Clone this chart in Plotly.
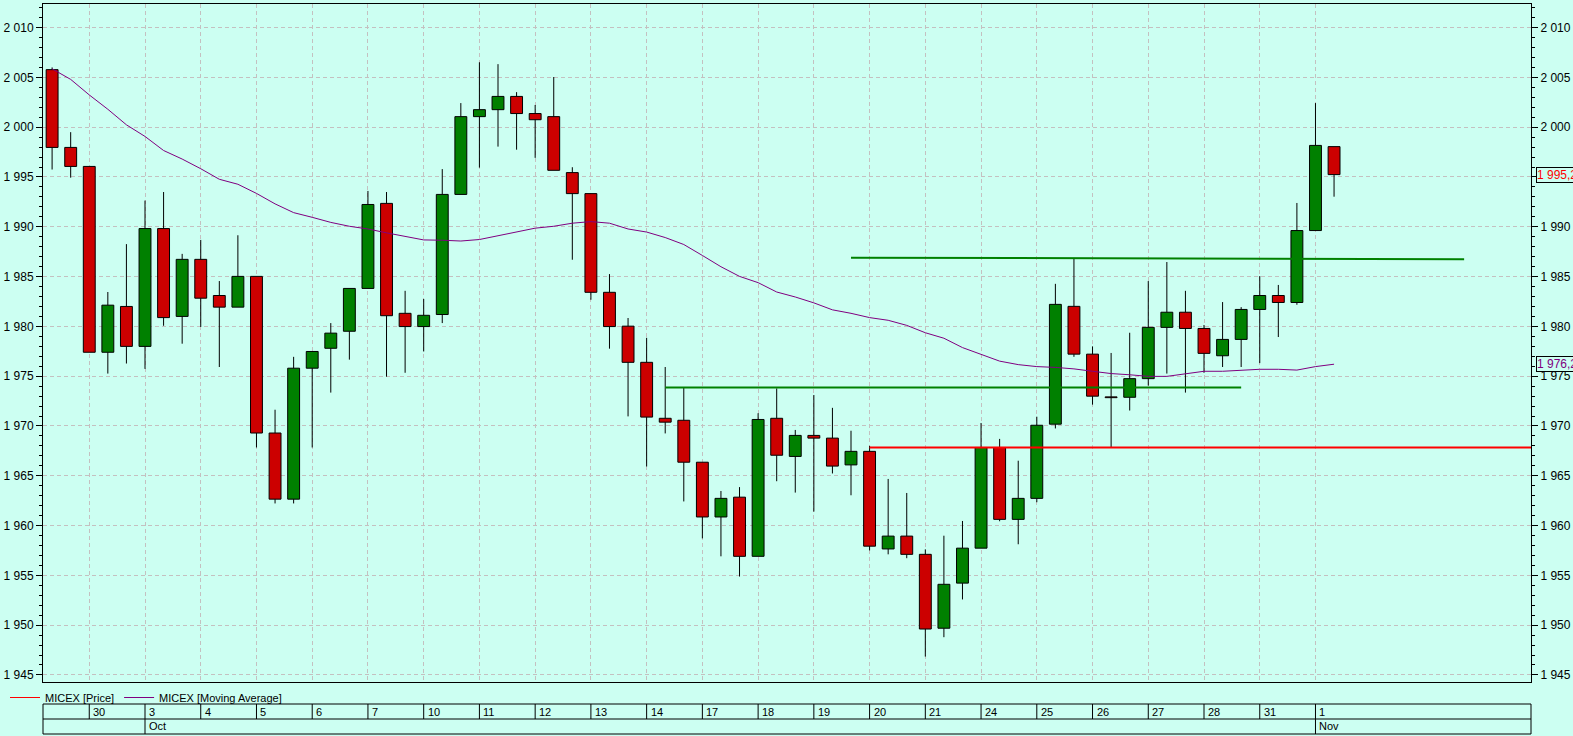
import plotly.graph_objects as go

# ---------------- data ----------------
opens = [2005.78, 1997.97, 1996.06, 1977.40, 1982.00, 1977.99, 1989.82, 1981.00, 1986.73, 1983.10,
         1981.93, 1985.02, 1969.29, 1962.65, 1975.80, 1977.80, 1979.51, 1983.81, 1992.35, 1981.31,
         1979.98, 1981.19, 1993.25, 2001.06, 2001.76, 2003.09, 2001.37, 2001.06, 1995.44, 1993.33,
         1983.42, 1980.02, 1976.39, 1970.77, 1970.57, 1966.36, 1960.86, 1962.85, 1956.91, 1970.77,
         1966.94, 1969.05, 1968.78, 1966.09, 1967.45, 1957.65, 1958.94, 1957.11, 1949.69, 1954.22,
         1957.73, 1967.84, 1960.62, 1962.73, 1970.18, 1982.01, 1977.21, 1972.88, 1972.88, 1974.75,
         1979.90, 1981.42, 1979.79, 1977.05, 1978.69, 1981.70, 1983.10, 1982.40, 1989.62, 1998.05]
highs = [2006.00, 1999.50, 1996.06, 1983.45, 1988.26, 1992.63, 1993.49, 1987.28, 1988.68, 1984.55,
         1989.15, 1985.02, 1971.63, 1976.94, 1977.48, 1980.33, 1983.81, 1993.60, 1993.49, 1983.57,
         1982.75, 1995.79, 2002.42, 2006.52, 2006.33, 2003.52, 2002.23, 2005.04, 1995.98, 1993.33,
         1985.25, 1980.84, 1978.85, 1975.92, 1973.81, 1966.36, 1963.47, 1963.86, 1971.28, 1973.77,
         1969.60, 1973.11, 1971.82, 1969.52, 1968.00, 1964.68, 1963.27, 1957.61, 1958.98, 1960.46,
         1970.30, 1968.70, 1966.51, 1970.93, 1984.27, 1986.77, 1977.99, 1977.33, 1979.36, 1984.55,
         1986.46, 1983.57, 1980.14, 1982.44, 1981.93, 1985.05, 1984.16, 1992.39, 2002.42, 1998.05]
lows = [1995.75, 1994.93, 1977.40, 1975.26, 1976.27, 1975.73, 1980.06, 1978.26, 1979.94, 1975.92,
        1981.93, 1967.84, 1962.22, 1962.22, 1967.84, 1973.35, 1976.66, 1983.81, 1974.95, 1975.34,
        1977.48, 1980.33, 1993.25, 1995.94, 1998.05, 1997.74, 1996.92, 1995.67, 1986.69, 1982.67,
        1977.76, 1970.96, 1965.93, 1969.25, 1962.42, 1958.71, 1956.91, 1954.88, 1956.91, 1964.45,
        1963.31, 1961.40, 1965.23, 1963.04, 1957.50, 1957.11, 1956.72, 1946.84, 1948.79, 1952.58,
        1957.73, 1960.43, 1958.12, 1962.34, 1969.75, 1976.94, 1972.14, 1967.84, 1971.55, 1974.05,
        1975.26, 1973.35, 1975.34, 1975.92, 1975.92, 1976.31, 1978.93, 1982.17, 1989.62, 1993.02]
closes = [1997.97, 1996.06, 1977.40, 1982.13, 1977.99, 1989.82, 1980.88, 1986.73, 1982.83, 1981.93,
          1985.02, 1969.29, 1962.65, 1975.80, 1977.48, 1979.32, 1983.81, 1992.24, 1981.07, 1979.98,
          1981.11, 1993.25, 2001.06, 2001.76, 2003.09, 2001.37, 2000.75, 1995.67, 1993.33, 1983.42,
          1979.98, 1976.39, 1970.89, 1970.38, 1966.36, 1960.86, 1962.73, 1956.91, 1970.65, 1967.06,
          1969.05, 1968.78, 1965.97, 1967.45, 1957.93, 1958.94, 1957.11, 1949.61, 1954.10, 1957.73,
          1967.84, 1960.62, 1962.73, 1970.07, 1982.21, 1977.21, 1972.99, 1972.88, 1974.75, 1979.90,
          1981.42, 1979.79, 1977.29, 1978.69, 1981.70, 1983.10, 1982.40, 1989.62, 1998.17, 1995.24]
moving_average = [2005.86, 2004.80, 2003.24, 2001.80, 2000.24, 1999.07, 1997.66, 1996.80, 1995.83, 1994.77,
                  1994.27, 1993.35, 1992.30, 1991.42, 1990.95, 1990.44, 1990.05, 1989.78, 1989.39, 1989.07,
                  1988.68, 1988.65, 1988.57, 1988.72, 1989.11, 1989.47, 1989.86, 1990.05, 1990.36, 1990.52,
                  1990.36, 1989.78, 1989.47, 1988.92, 1988.22, 1987.12, 1985.99, 1985.02, 1984.39, 1983.45,
                  1982.95, 1982.36, 1981.66, 1981.31, 1980.88, 1980.61, 1980.10, 1979.36, 1978.81, 1977.87,
                  1977.17, 1976.51, 1976.16, 1975.96, 1975.88, 1975.73, 1975.49, 1975.26, 1975.14, 1974.98,
                  1974.98, 1975.22, 1975.49, 1975.49, 1975.61, 1975.69, 1975.69, 1975.61, 1975.96, 1976.20]

day_labels = ["30", "3", "4", "5", "6", "7", "10", "11", "12", "13", "14", "17",
              "18", "19", "20", "21", "24", "25", "26", "27", "28", "31", "1"]
month_labels = ["Oct", "Nov"]
month_start_day = [1, 22]
first_day_candle = 2
candles_per_day = 3

# drawn level lines: (start candle, end candle, start price, end price, colour)
level_lines = [
    (43, 76, 1986.90, 1986.75, "#008000"),
    (33, 64, 1973.85, 1973.85, "#008000"),
    (44, 80, 1967.84, 1967.84, "#FF0000"),
]

# ---------------- styling ----------------
W, H = 1573, 736
ML, MR, MT, MB = 43, 42, 4, 54
PLOT_W = W - ML - MR
PLOT_H = H - MT - MB
BG = "#CCFFF2"
GRID = "#C4C0C0"
UP = "#008000"
DOWN = "#CC0000"
FONT = "Liberation Sans, Arial, sans-serif"
X_RANGE = [-0.49, 79.6]
Y_RANGE = [1944.29, 2012.37]


def paper_y(px):
    return (H - MB - px) / PLOT_H


def paper_x(px):
    return (px - ML) / PLOT_W


def fmt(v):
    s = f"{v:,.1f}"
    return s.replace(",", " ").replace(".", ",")


n = len(opens)
xs = list(range(n))

body_base, body_h, body_col = [], [], []
wx, wy = [], []
for i, (o, h, l, c) in enumerate(zip(opens, highs, lows, closes)):
    top, bot = max(o, c), min(o, c)
    hh = max(top - bot, 0.08)
    body_base.append(bot - (hh - (top - bot)) / 2)
    body_h.append(hh)
    body_col.append(UP if c > o else DOWN)
    if h > top:
        wx += [i, i, None]
        wy += [h, top, None]
    if l < bot:
        wx += [i, i, None]
        wy += [bot, l, None]

fig = go.Figure()

# legend entry for price
fig.add_trace(go.Scatter(x=[None], y=[None], mode="lines", name="MICEX [Price]",
                         line=dict(color="#FF0000", width=1)))

fig.add_trace(go.Bar(x=xs, y=body_h, base=body_base, width=0.64,
                     marker=dict(color=body_col, line=dict(color="black", width=1)),
                     showlegend=False, hoverinfo="skip"))
fig.add_trace(go.Scatter(x=wx, y=wy, mode="lines", line=dict(color="black", width=1),
                         showlegend=False, hoverinfo="skip"))

for x0, x1, p0, p1, col in level_lines:
    fig.add_trace(go.Scatter(x=[x0, x1], y=[p0, p1], mode="lines",
                             line=dict(color=col, width=2), showlegend=False, hoverinfo="skip"))

fig.add_trace(go.Scatter(x=xs, y=moving_average, mode="lines", name="MICEX [Moving Average]",
                         line=dict(color="#800080", width=1), yaxis="y2"))

day_starts = [first_day_candle + candles_per_day * d for d in range(len(day_labels))]

yaxis_common = dict(range=Y_RANGE, tickmode="linear", tick0=1945, dtick=5, tickformat=",d",
                    ticks="outside", ticklen=6, tickcolor="black", tickwidth=1,
                    showline=True, linecolor="black", linewidth=1, zeroline=False,
                    tickfont=dict(family=FONT, size=12, color="black"),
                    minor=dict(tick0=1945, dtick=1, ticks="outside", ticklen=3,
                               tickcolor="black", showgrid=False),
                    automargin=False, fixedrange=True)

fig.update_layout(
    width=W, height=H,
    margin=dict(l=ML, r=MR, t=MT, b=MB, pad=0, autoexpand=False),
    paper_bgcolor=BG, plot_bgcolor=BG,
    separators=", ",
    barmode="overlay",
    font=dict(family=FONT, size=11, color="black"),
    xaxis=dict(range=X_RANGE, tickmode="array", tickvals=day_starts, showticklabels=False,
               ticks="", showgrid=True, gridcolor=GRID, griddash="4px,3px", gridwidth=1,
               showline=True, mirror=True, linecolor="black", linewidth=1, zeroline=False,
               automargin=False, fixedrange=True),
    yaxis=dict(side="left", showgrid=True, gridcolor=GRID, griddash="4px,3px", gridwidth=1,
               **yaxis_common),
    yaxis2=dict(side="right", overlaying="y", showgrid=False, **yaxis_common),
    legend=dict(orientation="h", x=paper_x(5), xanchor="left", y=paper_y(683), yanchor="top",
                bgcolor="rgba(0,0,0,0)", font=dict(family=FONT, size=11, color="black"),
                itemwidth=30, traceorder="normal"),
    showlegend=True,
)

# ---- time line below the chart ----
r1_top, r1_bot, r2_bot = paper_y(704), paper_y(719), paper_y(734)
shapes = [
    dict(type="rect", xref="paper", yref="paper", x0=0, x1=1, y0=r2_bot, y1=r1_top,
         line=dict(color="black", width=1)),
    dict(type="line", xref="paper", yref="paper", x0=0, x1=1, y0=r1_bot, y1=r1_bot,
         line=dict(color="black", width=1)),
]
annotations = []
for d, lab in enumerate(day_labels):
    xs0 = day_starts[d]
    shapes.append(dict(type="line", xref="x", yref="paper", x0=xs0, x1=xs0, y0=r1_bot, y1=r1_top,
                       line=dict(color="black", width=1)))
    annotations.append(dict(x=xs0, xref="x", y=(r1_top + r1_bot) / 2, yref="paper",
                            text=lab, showarrow=False, xanchor="left", yanchor="middle", xshift=2,
                            font=dict(family=FONT, size=11, color="black")))
for m, lab in zip(month_start_day, month_labels):
    xs0 = day_starts[m]
    shapes.append(dict(type="line", xref="x", yref="paper", x0=xs0, x1=xs0, y0=r2_bot, y1=r1_bot,
                       line=dict(color="black", width=1)))
    annotations.append(dict(x=xs0, xref="x", y=(r1_bot + r2_bot) / 2, yref="paper",
                            text=lab, showarrow=False, xanchor="left", yanchor="middle", xshift=2,
                            font=dict(family=FONT, size=11, color="black")))

# last-value labels on the right axis
for val, col in [(closes[-1], "#FF0000"), (moving_average[-1], "#800080")]:
    annotations.append(dict(x=1, xref="paper", y=val, yref="y", text=fmt(val), showarrow=False,
                            xanchor="left", yanchor="middle", xshift=5,
                            font=dict(family=FONT, size=12, color=col),
                            bordercolor="black", borderwidth=1, borderpad=0, bgcolor=BG))

fig.update_layout(shapes=shapes, annotations=annotations)

fig.write_html(
    "out.html",
    config={"displayModeBar": False},
    post_script="document.body.style.margin='0px';document.body.style.overflow='hidden';",
)
